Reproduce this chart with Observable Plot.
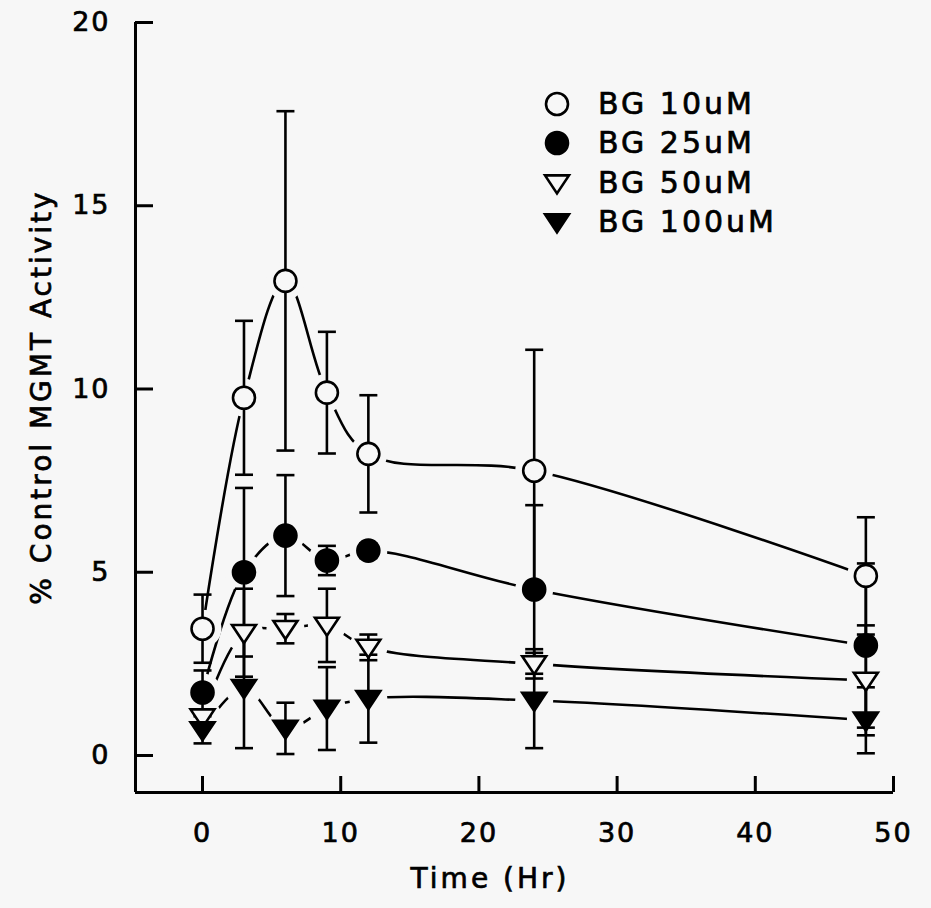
<!DOCTYPE html>
<html><head><meta charset="utf-8">
<script src="https://cdn.jsdelivr.net/npm/d3@7"></script>
<script src="https://cdn.jsdelivr.net/npm/@observablehq/plot@0.6"></script>
<style>
html,body{margin:0;padding:0;background:#f7f7f7;}
#wrap{position:relative;width:931px;height:908px;font-family:"DejaVu Sans",sans-serif;color:#000;}
#ytitle{position:absolute;left:41px;top:397px;transform:translate(-50%,-50%) rotate(-90deg);white-space:nowrap;font-size:28px;letter-spacing:3px;-webkit-text-stroke:0.7px black;}
#xtitle{position:absolute;left:490px;top:878px;transform:translate(-50%,-50%);white-space:nowrap;font-size:28px;letter-spacing:3px;-webkit-text-stroke:0.7px black;}
#legend{position:absolute;left:540px;top:84px;}
.row{display:flex;align-items:center;height:39.5px;}
.row svg{width:34px;height:30px;display:block;}
.row span{font-size:30px;letter-spacing:3px;margin-left:24px;line-height:30px;-webkit-text-stroke:0.7px black;}
</style>
</head><body>
<div id="wrap">
  <div id="chart"></div>
  <div id="ytitle"></div>
  <div id="xtitle"></div>
  <div id="legend"></div>
</div>
<script>
// ---- data ----
const times = [0, 3, 6, 9, 12, 24, 48];
const seriesNames = ["BG 10uM", "BG 25uM", "BG 50uM", "BG 100uM"];
const bg10 = [3.46, 9.76, 12.95, 9.9, 8.23, 7.77, 4.9];
const bg10Err = [0.93, 2.1, 4.63, 1.66, 1.6, 3.3, 1.6];
const bg25 = [1.72, 5.0, 6.0, 5.32, 5.59, 4.53, 3.0];
const bg25Err = [0.6, 2.3, 1.65, 0.4, 0.2, 2.3, 2.24];
const bg50 = [1.05, 3.35, 3.46, 3.55, 2.95, 2.5, 2.05];
const bg50Err = [0.2, 1.2, 0.4, 1.0, 0.35, 0.4, 1.5];
const bg100 = [0.7, 1.85, 0.74, 1.28, 1.55, 1.5, 0.96];
const bg100Err = [0.37, 1.65, 0.7, 1.13, 1.2, 1.3, 0.9];
const xTicks = [0, 10, 20, 30, 40, 50];
const yTicks = [0, 5, 10, 15, 20];
const xDomain = [-4.85, 50];
const yDomain = [-1.01, 20];
const xTitle = "Time (Hr)";
const yTitle = "% Control MGMT Activity";

// ---- styles ----
const BG = "#f7f7f7";
const triDown = {draw(ctx, size) {
  const r = Math.sqrt(size / Math.PI);
  ctx.moveTo(-r * 1.33, -r * 0.85);
  ctx.lineTo(r * 1.33, -r * 0.85);
  ctx.lineTo(0, r * 1.15);
  ctx.closePath();
}};
const capSym = {draw(ctx, size) {
  const r = Math.sqrt(size / Math.PI);
  ctx.moveTo(-r, 0); ctx.lineTo(r, 0);
}};
const seriesStyle = [
  {symbol: "circle", fill: BG, r: 11},
  {symbol: "circle", fill: "black", r: 11},
  {symbol: triDown, fill: BG, r: 9},
  {symbol: triDown, fill: "black", r: 9}
];

const values = [bg10, bg25, bg50, bg100];
const errs = [bg10Err, bg25Err, bg50Err, bg100Err];
const rows = [];
seriesNames.forEach((s, i) => times.forEach((t, j) => rows.push({
  series: s, time: t, value: values[i][j], lo: values[i][j] - errs[i][j], hi: values[i][j] + errs[i][j]
})));

const marks = [
  Plot.ruleX([xDomain[0]], {stroke: "black", strokeWidth: 3}),
  Plot.ruleY([yDomain[0]], {stroke: "black", strokeWidth: 3}),
  Plot.axisX({ticks: xTicks, tickSize: -16, tickPadding: 46, strokeWidth: 3, label: null}),
  Plot.axisY({ticks: yTicks, tickSize: -18, tickPadding: 43, strokeWidth: 3, label: null}),
  Plot.line(rows, {x: "time", y: "value", z: "series", curve: "catmull-rom", stroke: "black", strokeWidth: 2.6}),
  Plot.dot(rows, {x: "time", y: "value", r: 19, fill: BG, stroke: null}),
  Plot.ruleX(rows, {x: "time", y1: "lo", y2: "hi", stroke: "black", strokeWidth: 2.6}),
  Plot.dot(rows, {x: "time", y: "lo", symbol: capSym, r: 9, fill: "none", stroke: "black", strokeWidth: 2.6}),
  Plot.dot(rows, {x: "time", y: "hi", symbol: capSym, r: 9, fill: "none", stroke: "black", strokeWidth: 2.6}),
  ...seriesNames.map((s, i) => Plot.dot(rows.filter(d => d.series === s), {
    x: "time", y: "value", symbol: seriesStyle[i].symbol, r: seriesStyle[i].r,
    fill: seriesStyle[i].fill, stroke: "black", strokeWidth: 2.6
  }))
];

const chart = Plot.plot({
  width: 931, height: 908,
  marginLeft: 135, marginRight: 38, marginTop: 22, marginBottom: 116,
  x: {domain: xDomain},
  y: {domain: yDomain},
  style: {background: BG, fontFamily: "DejaVu Sans, sans-serif", fontSize: "27px", letterSpacing: "2px", color: "black", overflow: "visible"},
  marks
});
d3.select(chart).selectAll("text").style("stroke", "black").style("stroke-width", "0.7px");
document.getElementById("chart").append(chart);
document.getElementById("ytitle").textContent = yTitle;
document.getElementById("xtitle").textContent = xTitle;

// legend
const legend = d3.select("#legend");
seriesNames.forEach((s, i) => {
  const row = legend.append("div").attr("class", "row");
  const svg = row.append("svg").attr("viewBox", "-17 -15 34 30");
  const st = seriesStyle[i];
  const symType = st.symbol === "circle" ? d3.symbolCircle : st.symbol;
  svg.append("path")
    .attr("d", d3.symbol(symType, st.r * st.r * Math.PI)())
    .attr("fill", st.fill).attr("stroke", "black").attr("stroke-width", 2.6);
  row.append("span").text(s);
});
</script>
</body></html>
